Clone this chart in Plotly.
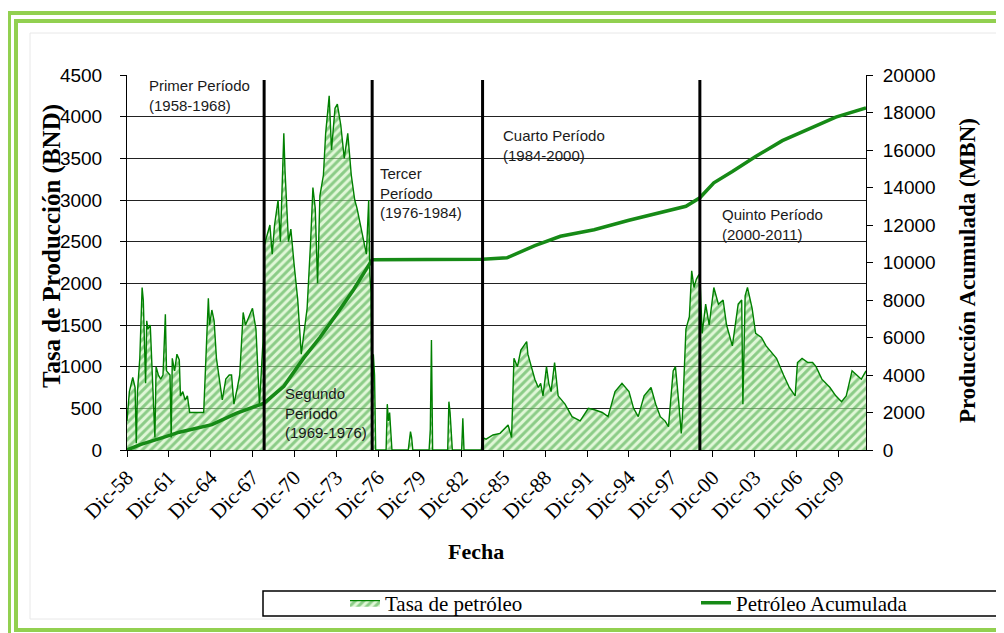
import plotly.graph_objects as go

# Tasa de petróleo (BND)
rate_dates = [
    "1958-12", "1959-02", "1959-05", "1959-07", "1959-08", "1959-09", "1959-11", "1960-01", "1960-02",
    "1960-03", "1960-04", "1960-05", "1960-06", "1960-08", "1960-10", "1960-12", "1961-01", "1961-03",
    "1961-05", "1961-07", "1961-09", "1961-10", "1962-01", "1962-02", "1962-03", "1962-05", "1962-07",
    "1962-09", "1962-10", "1962-12", "1963-02", "1963-04", "1963-06", "1964-06", "1964-10", "1964-11",
    "1965-01", "1965-03", "1965-05", "1965-08", "1965-10", "1966-01", "1966-04", "1966-06", "1966-08",
    "1966-11", "1967-01", "1967-04", "1967-06", "1967-12", "1968-03", "1968-06", "1968-09", "1968-10",
    "1968-11", "1969-03", "1969-05", "1969-07", "1969-10", "1969-12", "1970-03", "1970-04", "1970-07",
    "1970-09", "1970-12", "1971-03", "1971-06", "1971-11", "1972-02", "1972-04", "1972-06", "1972-08",
    "1972-10", "1973-01", "1973-03", "1973-06", "1973-08", "1973-11", "1974-01", "1974-04", "1974-07",
    "1974-10", "1975-01", "1975-04", "1975-06", "1975-09", "1975-12", "1976-02", "1976-04", "1976-05",
    "1976-06", "1976-07", "1976-08", "1976-09", "1976-10", "1977-07", "1977-08", "1977-09", "1977-10",
    "1977-11", "1977-12", "1979-02", "1979-04", "1979-05", "1979-06", "1980-08", "1980-09", "1980-10",
    "1980-11", "1981-12", "1982-01", "1982-02", "1982-03", "1982-04", "1982-12", "1983-01", "1983-02",
    "1984-05", "1984-06", "1984-09", "1985-03", "1985-09", "1986-04", "1986-07", "1986-09", "1986-12",
    "1987-03", "1987-08", "1987-09", "1987-12", "1988-03", "1988-06", "1988-08", "1988-10", "1989-01",
    "1989-03", "1989-05", "1989-08", "1989-11", "1990-05", "1990-11", "1991-06", "1992-01", "1992-07",
    "1993-01", "1993-06", "1993-12", "1994-06", "1994-12", "1995-04", "1995-08", "1996-01", "1996-07",
    "1996-11", "1997-03", "1997-07", "1997-10", "1998-02", "1998-04", "1998-07", "1998-09", "1998-10",
    "1999-01", "1999-04", "1999-06", "1999-08", "1999-10", "1999-12", "2000-01", "2000-03", "2000-06",
    "2000-09", "2001-01", "2001-05", "2001-09", "2001-12", "2002-05", "2002-10", "2003-01", "2003-02",
    "2003-04", "2003-06", "2003-10", "2004-01", "2004-06", "2004-10", "2005-04", "2005-07", "2006-01",
    "2006-06", "2006-11", "2007-01", "2007-05", "2007-10", "2008-02", "2008-05", "2008-10", "2009-05",
    "2009-10", "2010-03", "2010-07", "2010-12", "2011-04", "2011-08", "2011-12",
]
rate_bnd = [
    350, 700, 870, 750, 80, 700, 1100, 1950, 1800,
    1400, 800, 1550, 1450, 1500, 800, 150, 1000, 900,
    850, 900, 1630, 950, 900, 150, 1100, 950, 1150,
    1080, 650, 700, 600, 650, 450, 450, 1820, 1500,
    1680, 1550, 1100, 800, 600, 850, 900, 900, 550,
    750, 900, 1650, 1500, 1700, 1450, 550, 1300, 2450,
    2500, 2700, 2350, 2700, 3000, 2500, 3800, 3350, 2500,
    2650, 2200, 1800, 1150, 1700, 2500, 3150, 2900, 2000,
    3050, 3300, 3800, 4250, 3600, 4100, 4150, 3900, 3500,
    3800, 3300, 3000, 2900, 2700, 2500, 2350, 3000, 2100,
    1900, 200, 1150, 900, 0, 0, 550, 350, 450,
    150, 0, 0, 220, 150, 0, 0, 250, 1320,
    0, 0, 580, 450, 200, 0, 0, 380, 0,
    0, 150, 130, 180, 200, 300, 150, 1100, 1000,
    1200, 1300, 1150, 1000, 850, 750, 800, 650, 1000,
    800, 700, 1050, 650, 550, 400, 350, 500, 480,
    450, 400, 700, 800, 700, 500, 400, 650, 750,
    550, 400, 350, 280, 950, 1000, 550, 200, 400,
    1450, 1600, 2150, 1950, 2050, 2100, 2100, 1400, 1750,
    1500, 1950, 1750, 1800, 1500, 1250, 1750, 1800, 550,
    1850, 1950, 1700, 1400, 1350, 1250, 1150, 1100, 900,
    750, 650, 1050, 1100, 1050, 1050, 1000, 850, 750,
    650, 580, 650, 950, 900, 850, 950,
]

# Petróleo acumulado (MBN)
cum_dates = [
    "1958-12", "1959-12", "1961-06", "1962-09", "1965-01", "1966-10", "1968-10", "1970-03", "1971-08",
    "1972-10", "1974-01", "1975-03", "1976-07", "1984-06", "1986-03", "1988-03", "1990-01", "1992-06",
    "1994-12", "1997-04", "1999-01", "2000-01", "2001-01", "2002-05", "2004-01", "2005-12", "2007-12",
    "2009-10", "2011-12",
]
cum_mbn = [
    0, 300, 650, 950, 1350, 1950, 2500, 3400, 4900,
    6000, 7300, 8550, 10150, 10170, 10250, 10900, 11400, 11750,
    12250, 12700, 13000, 13450, 14250, 14850, 15650, 16500, 17150,
    17750, 18250,
]

# periodos
period_bounds = ["1968-10", "1976-07", "1984-06", "2000-01"]
period_labels = [
    "Primer Período<br>(1958-1968)",
    "Segundo<br>Período<br>(1969-1976)",
    "Tercer<br>Período<br>(1976-1984)",
    "Cuarto Período<br>(1984-2000)",
    "Quinto Período<br>(2000-2011)",
]
label_x = ["1960-05", "1970-02", "1976-12", "1985-10", "2001-06"]
label_y = [4500, 800, 3440, 3900, 2950]

tick_dates = ["%d-12-01" % y for y in range(1958, 2010, 3)]
tick_text = ["Dic-%02d" % (y % 100) for y in range(1958, 2010, 3)]

GREEN = "#008000"
FRAME = "#92d050"
SERIF = "Liberation Serif, Times New Roman, serif"
SANS = "Liberation Sans, Arial, sans-serif"


# page pixel -> paper coords (plot area spans x 127..866, y 75..450 on the page)
def px_x(p):
    return (p - 127) / 739


def px_y(p):
    return (450 - p) / 375


fig = go.Figure()
fig.add_trace(go.Scatter(
    x=rate_dates, y=rate_bnd, name="Tasa de petróleo",
    mode="lines", line=dict(color=GREEN, width=1.4),
    fill="tozeroy", fillcolor="rgba(185,232,165,0.65)",
    fillpattern=dict(shape="/", fgcolor="#36a236", bgcolor="rgba(205,242,190,0.6)",
                     size=6, solidity=0.5),
))
fig.add_trace(go.Scatter(
    x=cum_dates, y=cum_mbn, name="Petróleo Acumulada", yaxis="y2",
    mode="lines", line=dict(color="#168a16", width=3.5),
))

shapes = []
for d in period_bounds:
    shapes.append(dict(type="line", xref="x", yref="y", x0=d, x1=d, y0=-40, y1=4440,
                       line=dict(color="black", width=3)))
# frame
shapes.append(dict(type="rect", xref="paper", yref="paper", x0=px_x(9), x1=px_x(1030),
                   y0=px_y(660), y1=px_y(13), line=dict(color=FRAME, width=4)))
shapes.append(dict(type="rect", xref="paper", yref="paper", x0=px_x(16), x1=px_x(1030),
                   y0=px_y(630), y1=px_y(21), line=dict(color=FRAME, width=4)))
shapes.append(dict(type="rect", xref="paper", yref="paper", x0=px_x(30), x1=px_x(997),
                   y0=px_y(619), y1=px_y(33), line=dict(color="#e8e8e8", width=1)))
# legend box
shapes.append(dict(type="rect", xref="paper", yref="paper", x0=px_x(263), x1=px_x(997),
                   y0=px_y(616), y1=px_y(591), line=dict(color="black", width=1.5),
                   fillcolor="white", layer="below"))

annotations = []
for t, x, y in zip(period_labels, label_x, label_y):
    annotations.append(dict(text=t, x=x, y=y, xref="x", yref="y", xanchor="left", yanchor="top",
                            align="left", showarrow=False, font=dict(family=SANS, size=15, color="#1a1a1a")))
annotations.append(dict(text="<b>Tasa de Producción (BND)</b>", x=px_x(52), y=px_y(246),
                        xref="paper", yref="paper", xanchor="center", yanchor="middle",
                        textangle=-90, showarrow=False,
                        font=dict(family=SERIF, size=25, color="black")))
annotations.append(dict(text="<b>Producción Acumulada (MBN)</b>", x=px_x(967), y=px_y(271),
                        xref="paper", yref="paper", xanchor="center", yanchor="middle",
                        textangle=-90, showarrow=False,
                        font=dict(family=SERIF, size=23, color="black")))
annotations.append(dict(text="<b>Fecha</b>", x=px_x(476), y=px_y(551),
                        xref="paper", yref="paper", xanchor="center", yanchor="middle",
                        showarrow=False, font=dict(family=SERIF, size=22, color="black")))

# the page body has an 8px margin, so margins are reduced by 8 on left/top
fig.update_layout(
    width=1004, height=633,
    margin=dict(l=119, r=146, t=67, b=191),
    paper_bgcolor="white", plot_bgcolor="white",
    showlegend=True,
    legend=dict(orientation="h", xref="container", yref="container", x=(345 - 8) / 1004,
                y=1 - (603 - 8) / 633, xanchor="left", yanchor="middle",
                font=dict(family=SERIF, size=21, color="black"),
                entrywidth=306, bgcolor="rgba(0,0,0,0)"),
    xaxis=dict(type="date", range=["1958-12-01", "2011-12-01"], tickvals=tick_dates, ticktext=tick_text,
               tickangle=-45, ticks="outside", ticklen=6, tickcolor="black", showgrid=False,
               showline=True, linecolor="black", linewidth=1, zeroline=False,
               tickfont=dict(family=SERIF, size=21, color="black")),
    yaxis=dict(range=[0, 4500], dtick=500, ticks="outside", ticklen=6, tickcolor="black",
               showgrid=True, gridcolor="#222222", gridwidth=1, showline=True, linecolor="black",
               zeroline=False, ticklabelstandoff=14, tickfont=dict(family=SANS, size=19, color="black")),
    yaxis2=dict(range=[0, 20000], dtick=2000, overlaying="y", side="right", ticks="outside",
                ticklen=6, tickcolor="black", showgrid=False, showline=True, linecolor="black",
                zeroline=False, tickformat="d", ticklabelstandoff=6,
                tickfont=dict(family=SANS, size=19, color="black")),
    shapes=shapes,
    annotations=annotations,
)

fig.write_html("out.html")
